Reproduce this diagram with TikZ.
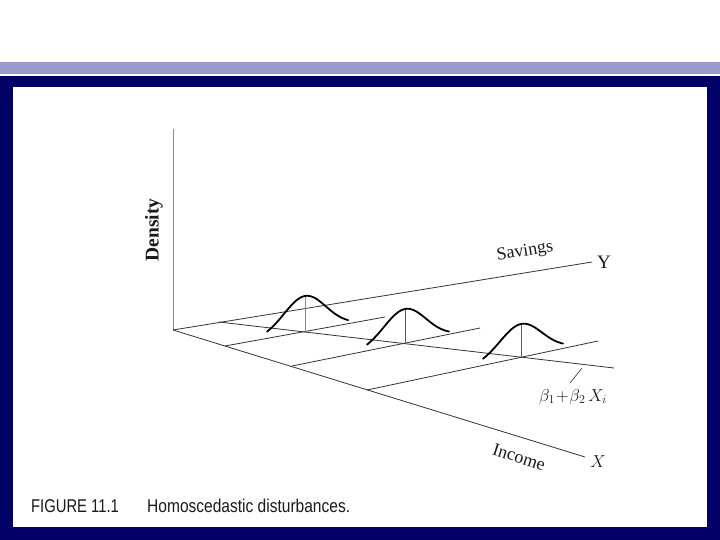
\documentclass[tikz,border=0pt]{standalone}
\usepackage{fontspec}
\setmainfont{Liberation Serif}
\newfontfamily\capfont[FakeStretch=0.84]{Liberation Sans}
\newfontfamily\capfigfont[FakeStretch=0.80]{Liberation Sans}
\definecolor{navy}{HTML}{000066}
\definecolor{barblue}{HTML}{9999CC}
\definecolor{linegray}{HTML}{333333}
\definecolor{axgray}{HTML}{8A8A8A}
\definecolor{txt}{HTML}{1A1A1A}
\tikzset{
  planeline/.style={draw=linegray, line width=0.8pt},
  vertline/.style={draw=axgray, line width=1pt},
  stalk/.style={draw=linegray!80, line width=0.9pt},
  bell/.style={draw=black, line width=1.8pt, line cap=round},
  lab/.style={inner sep=0pt, text=txt, font=\fontsize{18}{20}\selectfont},
  caption/.style={inner sep=0pt, anchor=base west, text=txt, font=\capfont\fontsize{18.5}{20}\selectfont}
}
\begin{document}
\begin{tikzpicture}[x=1pt,y=-1pt]
\useasboundingbox (0,0) rectangle (720,540);
\fill[white] (0,0) rectangle (720,540);
\fill[barblue] (0,62) rectangle (720,74);
\fill[navy] (0,76) rectangle (720,540);
\fill[white] (13,87) rectangle (707,527);

% key points
\coordinate (O) at (173,330);
\coordinate (Dtop) at (173,129);
\coordinate (Yend) at (592,262);
\coordinate (Xend) at (585,457);
\coordinate (Icpt) at (219,322);
\coordinate (Rend) at (614,368);
\coordinate (X1) at (225,346);
\coordinate (X2) at (292,366);
\coordinate (X3) at (367,390);
\coordinate (P1) at (385,317);
\coordinate (P2) at (480,328);
\coordinate (P3) at (598,341);
\coordinate (B1) at (305,332);
\coordinate (B2) at (405,344);
\coordinate (B3) at (521,357);
\coordinate (T1) at (305,296);
\coordinate (T2) at (405,309);
\coordinate (T3) at (521,324);

% axes
\draw[vertline] (O) -- (Dtop);
\draw[planeline] (O) -- (Yend);
\draw[planeline] (O) -- (Xend);
% regression line
\draw[planeline] (Icpt) -- (Rend);
% lines parallel to the savings axis
\draw[planeline] (X1) -- (P1);
\draw[planeline] (X2) -- (P2);
\draw[planeline] (X3) -- (P3);

% stalks
\draw[vertline] (B1) -- (T1);
\draw[stalk] (B2) -- (T2);
\draw[stalk] (B3) -- (T3);

% bells
\draw[bell] plot[domain=-38:43, samples=70, smooth]
  ({305+\x},{332-0.175*\x-36*exp(0-(\x)*(\x)/882)});
\draw[bell] plot[domain=-38:44, samples=70, smooth]
  ({405+\x},{344-0.195*\x-35*exp(0-(\x)*(\x)/882)});
\draw[bell] plot[domain=-38:42, samples=70, smooth]
  ({521+\x},{357-0.214*\x-33*exp(0-(\x)*(\x)/882)});

% labels
\node[lab, rotate=90, font=\bfseries\fontsize{19.5}{20}\selectfont] (dens) at (154,230) {Density};
\node[lab, rotate=9.2] (sav) at (525,252) {Savings};
\node[lab, font=\fontsize{19}{20}\selectfont] (ylab) at (604,262) {Y};
\node[lab, rotate=-17.6] (inc) at (519,457) {Income};
\node[lab, font=\fontsize{19}{20}\selectfont] (xlab) at (598,462) {$X$};
\node[lab, font=\fontsize{17}{18}\selectfont] (blab) at (573,397) {$\beta_1\!+\!\beta_2\,X_i$};
\coordinate (L1) at (570,383);
\coordinate (L2) at (582,368);
\draw[planeline, line width=0.6pt] (L1) -- (L2);

% caption
\node[caption, font=\capfigfont\fontsize{18.5}{20}\selectfont] (fig) at (31,512.5) {FIGURE 11.1};
\node[caption] (cap) at (147,512.5) {Homoscedastic disturbances.};
\end{tikzpicture}
\end{document}
